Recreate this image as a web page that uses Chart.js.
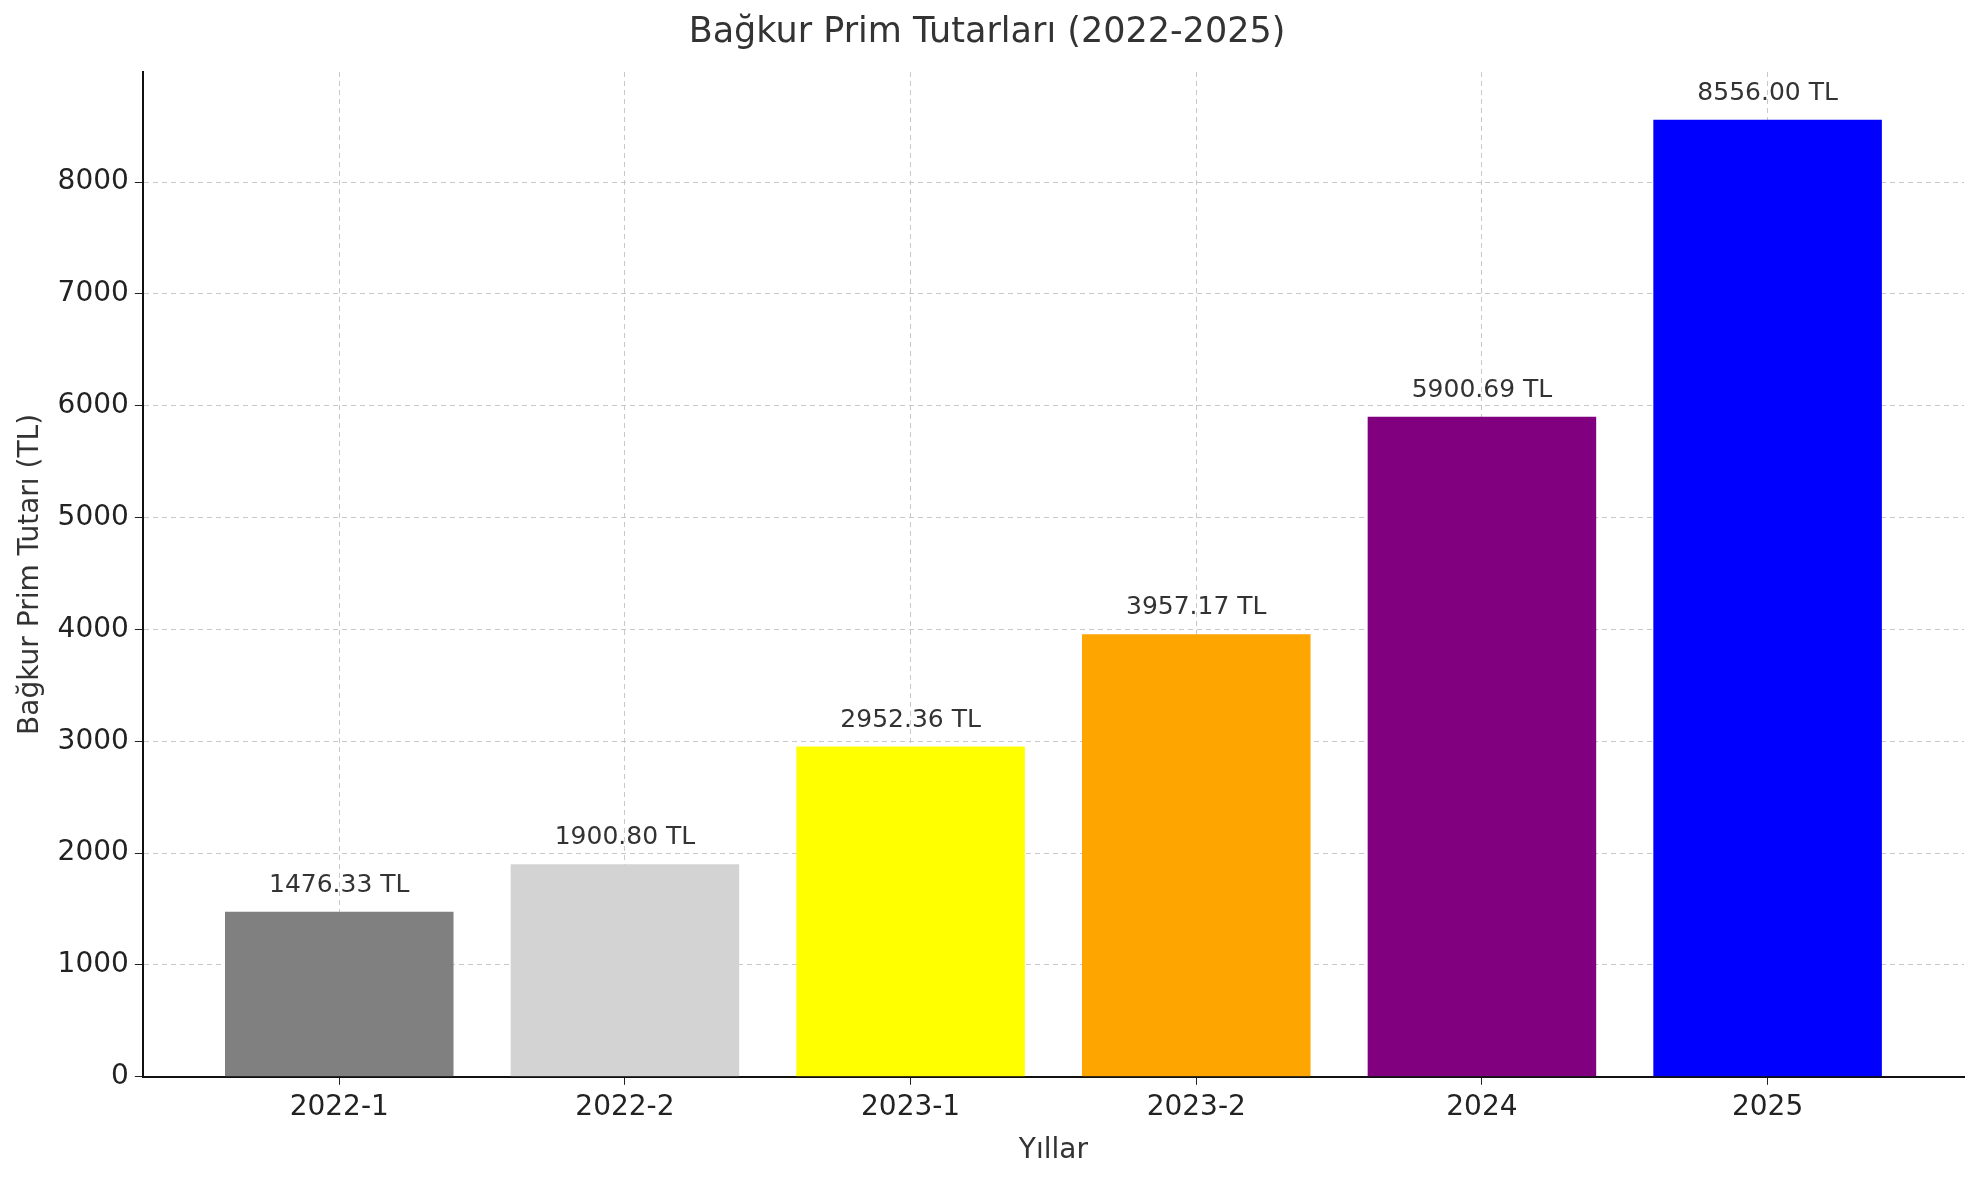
<!DOCTYPE html>
<html>
<head>
<meta charset="utf-8">
<script src="https://cdn.jsdelivr.net/npm/chart.js@4"></script>
<style>
  body { margin: 0; background: #fff; }
  #wrap { width: 1979px; height: 1180px; }
</style>
</head>
<body>
<div id="wrap"><canvas id="myChart"></canvas></div>
<script>
const periods = ["2022-1", "2022-2", "2023-1", "2023-2", "2024", "2025"];
const amounts = [1476.33, 1900.80, 2952.36, 3957.17, 5900.69, 8556.00];
const barColors = ["#808080", "#d3d3d3", "#ffff00", "#ffa500", "#800080", "#0000ff"];
const yTicks = [0, 1000, 2000, 3000, 4000, 5000, 6000, 7000, 8000];

Chart.defaults.font.family = "DejaVu Sans";
Chart.defaults.color = "#222";

// etiketler barların üstüne
const valueLabels = {
  id: "valueLabels",
  afterDatasetsDraw(chart) {
    const c = chart.ctx;
    const meta = chart.getDatasetMeta(0);
    c.save();
    c.font = "25px DejaVu Sans";
    c.fillStyle = "#333";
    c.textAlign = "center";
    c.textBaseline = "bottom";
    meta.data.forEach((bar, i) => {
      c.fillText(amounts[i].toFixed(2) + " TL", bar.x, bar.y - 14);
    });
    c.restore();
  },
};

const ctx = document.getElementById("myChart").getContext("2d");
const myChart = new Chart(ctx, {
  type: "bar",
  data: {
    datasets: [
      {
        data: amounts.map((v, i) => ({ x: i, y: v })),
        backgroundColor: barColors,
        barPercentage: 0.8,
        categoryPercentage: 1,
      },
    ],
  },
  options: {
    responsive: true,
    maintainAspectRatio: false,
    animation: false,
    layout: { padding: { left: 10, right: 15, top: 8, bottom: 8 } },
    scales: {
      x: {
        type: "linear",
        offset: false,
        min: -0.6875,
        max: 5.6875,
        afterBuildTicks: (axis) => {
          axis.ticks = periods.map((p, i) => ({ value: i }));
        },
        ticks: {
          callback: (v) => periods[v],
          font: { size: 28 },
          color: "#222",
          padding: 6,
        },
        grid: { offset: false, color: "#c8c8c8", tickLength: 8, tickColor: "#222" },
        border: { color: "#111", width: 2, dash: [5, 4] },
        title: { display: true, text: "Yıllar", font: { size: 28 }, color: "#333", padding: { top: 4 } },
      },
      y: {
        min: 0,
        max: 8984,
        afterBuildTicks: (axis) => {
          axis.ticks = yTicks.map((v) => ({ value: v }));
        },
        ticks: { callback: (v) => String(v), font: { size: 28 }, color: "#222", padding: 6 },
        grid: { color: "#c8c8c8", tickLength: 8, tickColor: "#222" },
        border: { color: "#111", width: 2, dash: [5, 4] },
        title: { display: true, text: "Bağkur Prim Tutarı (TL)", font: { size: 28 }, color: "#333" },
      },
    },
    plugins: {
      legend: { display: false },
      tooltip: { enabled: false },
      title: {
        display: true,
        text: "Bağkur Prim Tutarları (2022-2025)",
        font: { size: 35, weight: "normal" },
        color: "#333",
        padding: { top: 4, bottom: 18 },
      },
    },
  },
  plugins: [valueLabels],
});
</script>
</body>
</html>
